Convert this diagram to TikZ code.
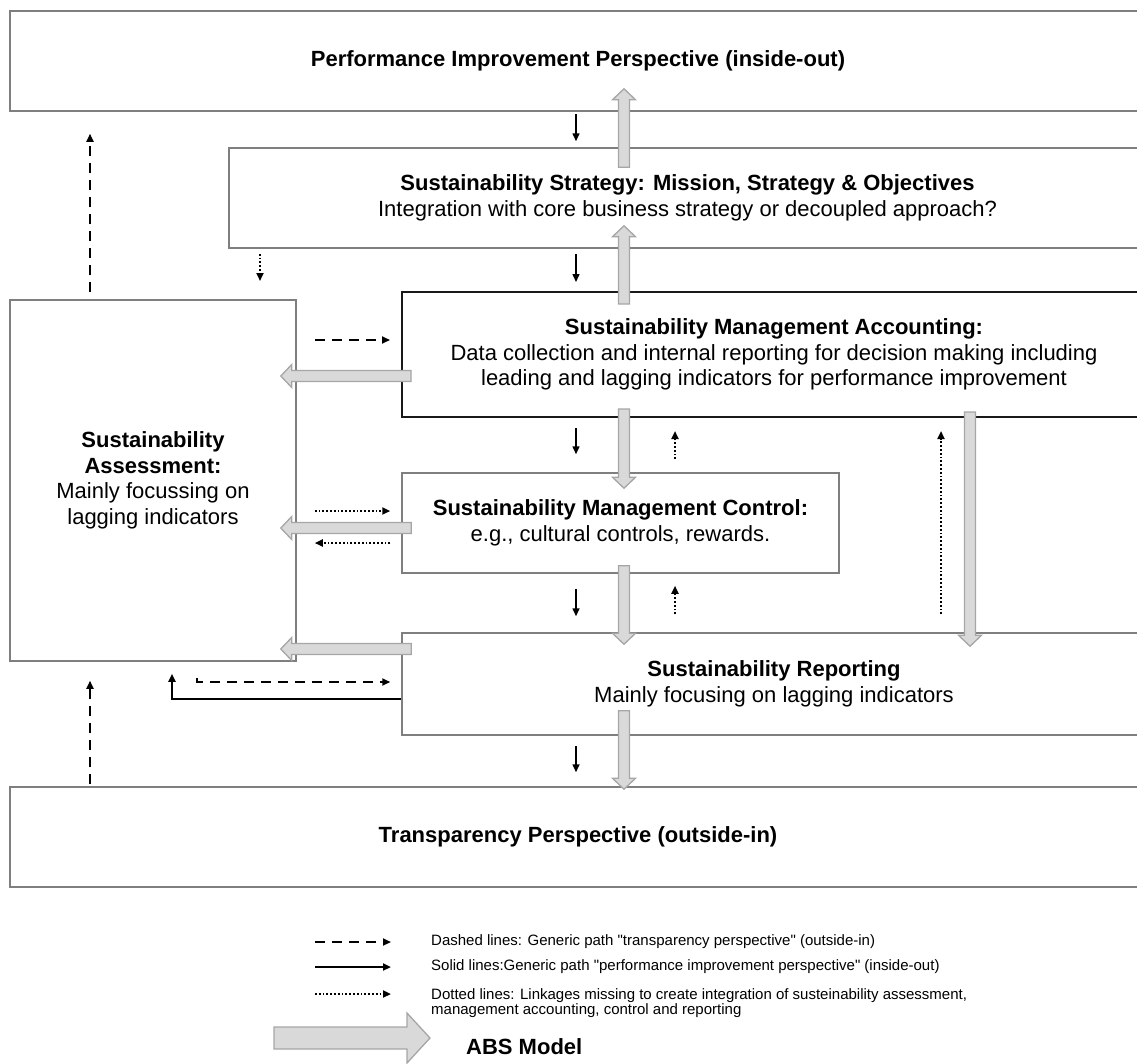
\documentclass[tikz,border=0pt]{standalone}
\usepackage{fontspec}
\setmainfont{Liberation Sans}
\usetikzlibrary{arrows.meta, calc}
\definecolor{boxgray}{HTML}{7F7F7F}
\definecolor{absfill}{HTML}{D9D9D9}
\definecolor{absline}{HTML}{A6A6A6}
% half shaft, half head, head length of the ABS block arrows
\def\abshw{5.5}\def\abshh{11.5}\def\abshl{11}
\newcommand\absarrow[2]{%
  \filldraw[abs arrow] let \p1=(#1), \p2=(#2), \n1={atan2(\y2-\y1,\x2-\x1)}, \n2={veclen(\x2-\x1,\y2-\y1)} in
    [shift={(\p1)}, rotate=\n1] (0pt,-\abshw pt) -- (\n2-\abshl pt,-\abshw pt) -- (\n2-\abshl pt,-\abshh pt)
    -- (\n2,0pt) -- (\n2-\abshl pt,\abshh pt) -- (\n2-\abshl pt,\abshw pt) -- (0pt,\abshw pt) -- cycle;}

\begin{document}
\begin{tikzpicture}[x=1pt, y=-1pt, >={Triangle[length=8pt,width=7pt]}]
    \tikzstyle{box}=[draw=boxgray, line width=1.5pt, rectangle, inner sep=0pt, align=center, font=\fontsize{22}{25.5}\selectfont]
    \tikzstyle{main box}=[box, draw=black!90, line width=2pt]
    \tikzstyle{solid arrow}=[->, line width=1.5pt]
    \tikzstyle{dashed arrow}=[->, line width=1.8pt, dash pattern=on 10pt off 7pt]
    \tikzstyle{dotted arrow}=[->, line width=2pt, dash pattern=on 1.8pt off 2pt]
    \tikzstyle{abs arrow}=[fill=absfill, draw=absline, line width=1.3pt]
    \tikzstyle{legend text}=[inner sep=0pt, align=left, font=\fontsize{15}{15.5}\selectfont]

    \useasboundingbox (0,0) rectangle (1137,1063);

    % boxes (they run on past the right edge)
    \node[box, minimum width=1136pt, minimum height=100pt] (perf) at (578,61) {\textbf{Performance Improvement Perspective (inside-out)}};
    \node[box, minimum width=917pt, minimum height=100pt] (strat) at (687.5,198)
        {\textbf{Sustainability Strategy: Mission, Strategy \& Objectives}\\Integration with core business strategy or decoupled approach?};
    \node[main box, minimum width=744pt, minimum height=125pt] (acc) at (774,354.5)
        {\textbf{Sustainability Management Accounting:}\\Data collection and internal reporting for decision making including\\leading and lagging indicators for performance improvement};
    \node[box, minimum width=437pt, minimum height=100pt] (ctrl) at (620.5,523)
        {\textbf{Sustainability Management Control:}\\e.g., cultural controls, rewards.};
    \node[box, minimum width=744pt, minimum height=102pt] (rep) at (774,684)
        {\textbf{Sustainability Reporting}\\Mainly focusing on lagging indicators};
    \node[box, minimum width=1136pt, minimum height=100pt] (trans) at (578,837) {\textbf{Transparency Perspective (outside-in)}};
    \node[box, minimum width=286pt, minimum height=361pt] (assess) at (153,480.5)
        {\textbf{Sustainability}\\\textbf{Assessment:}\\Mainly focussing on\\lagging indicators};

    % columns of the arrows
    \coordinate (xa) at (576,0);
    \coordinate (xb) at (624,0);
    \coordinate (xc) at (675,0);
    \coordinate (xd) at (941,0);
    \coordinate (xe) at (970,0);
    \coordinate (xf) at (260,0);
    \coordinate (xg) at (90,0);
    \coordinate (xh) at (172,0);
    \coordinate (xl) at (197,0);

    % solid lines
    \draw[solid arrow] ($(perf.south -| xa)+(0,2)$) -- ($(strat.north -| xa)+(0,-6)$);
    \draw[solid arrow] ($(strat.south -| xa)+(0,5)$) -- ($(acc.north -| xa)+(0,-9)$);
    \draw[solid arrow] ($(acc.south -| xa)+(0,10)$) -- ($(ctrl.north -| xa)+(0,-18)$);
    \draw[solid arrow] ($(ctrl.south -| xa)+(0,15)$) -- ($(rep.north -| xa)+(0,-16)$);
    \draw[solid arrow] ($(rep.south -| xa)+(0,10)$) -- ($(trans.north -| xa)+(0,-14)$);
    \draw[solid arrow, line width=2pt] ($(rep.west)+(0,15)$) -| ($(assess.south -| xh)+(0,12)$);

    % dashed lines
    \draw[dashed arrow] ($(assess.north -| xg)+(0,-7)$) -- ($(perf.south -| xg)+(0,22)$);
    \draw[dashed arrow] ($(trans.north -| xg)+(0,-2)$) -- ($(assess.south -| xg)+(0,19)$);
    \draw[dashed arrow] ($(assess.east |- acc.north)+(18,49)$) -- ($(acc.north west)+(-11,49)$);
    \draw[dashed arrow] ($(assess.south -| xl)+(0,16)$) |- ($(rep.west)+(-11,-2)$);

    % dotted lines
    \draw[dotted arrow] ($(strat.south -| xf)+(0,5)$) -- ($(acc.north -| xf)+(0,-10)$);
    \draw[dotted arrow] ($(assess.east |- ctrl.west)+(18,-12)$) -- ($(ctrl.west)+(-11,-12)$);
    \draw[dotted arrow] ($(ctrl.west)+(-11,20)$) -- ($(assess.east |- ctrl.west)+(18,20)$);
    \draw[dotted arrow] ($(ctrl.north -| xc)+(0,-13)$) -- ($(acc.south -| xc)+(0,13)$);
    \draw[dotted arrow] ($(rep.north -| xc)+(0,-18)$) -- ($(ctrl.south -| xc)+(0,12)$);
    \draw[dotted arrow] ($(rep.north -| xd)+(0,-18)$) -- ($(acc.south -| xd)+(0,13)$);

    % ABS model arrows
    \absarrow{$(strat.north -| xb)+(0,20)$}{$(perf.south -| xb)+(0,-23)$}
    \absarrow{$(acc.north -| xb)+(0,13)$}{$(strat.south -| xb)+(0,-23)$}
    \absarrow{$(acc.west)+(10,21.5)$}{$(assess.east |- acc.west)+(-16,21.5)$}
    \absarrow{$(acc.south -| xb)+(0,-9)$}{$(ctrl.north -| xb)+(0,16)$}
    \absarrow{$(ctrl.west)+(10,5)$}{$(assess.east |- ctrl.west)+(-16,5)$}
    \absarrow{$(ctrl.south -| xb)+(0,-8)$}{$(rep.north -| xb)+(0,12)$}
    \absarrow{$(acc.south -| xe)+(0,-6)$}{$(rep.north -| xe)+(0,14)$}
    \absarrow{$(rep.west)+(10,-35)$}{$(assess.east |- rep.west)+(-16,-35)$}
    \absarrow{$(rep.south -| xb)+(0,-25)$}{$(trans.north -| xb)+(0,3)$}

    % legend
    \node[legend text, anchor=west] (leg1) at (431,942) {Dashed lines: Generic path \textquotedbl transparency perspective\textquotedbl{} (outside-in)};
    \node[legend text, anchor=west] (leg2) at (431,967) {Solid lines:Generic path \textquotedbl performance improvement perspective\textquotedbl{} (inside-out)};
    \node[legend text, anchor=north west] (leg3) at (431,988)
        {Dotted lines: Linkages missing to create integration of susteinability assessment,\\management accounting, control and reporting};
    \node[anchor=west, inner sep=0pt, font=\bfseries\fontsize{22}{25}\selectfont] (abs) at (466,1047) {ABS Model};
    \draw[dashed arrow] ($(leg1.west)+(-116,0)$) -- ($(leg1.west)+(-40,0)$);
    \draw[solid arrow, line width=2pt] ($(leg2.west)+(-116,0)$) -- ($(leg2.west)+(-40,0)$);
    \draw[dotted arrow] ($(leg3.north west)+(-116,6)$) -- ($(leg3.north west)+(-40,6)$);
    \begin{scope}
        \def\abshw{11}\def\abshh{25}\def\abshl{23}
        \absarrow{$(abs.west)+(-192,-9)$}{$(abs.west)+(-36,-9)$}
    \end{scope}
\end{tikzpicture}
\end{document}
